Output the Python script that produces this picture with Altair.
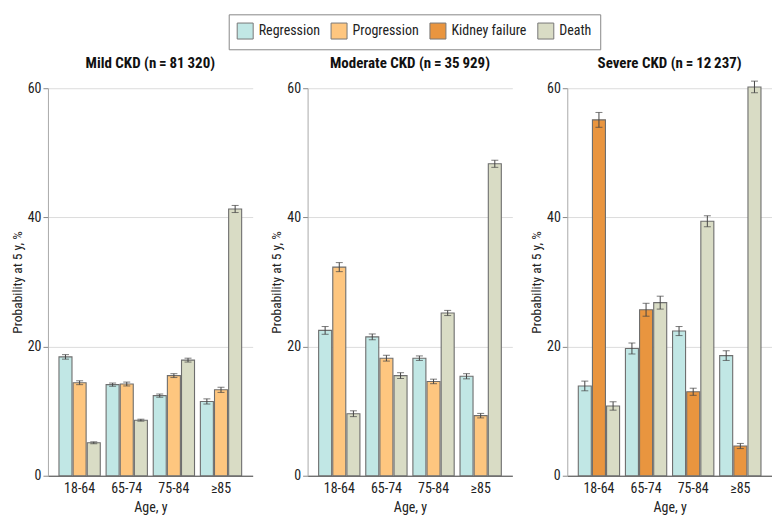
import altair as alt
import pandas as pd

ages = ["18-64", "65-74", "75-84", "≥85"]
outcomes = ["Regression", "Progression", "Kidney failure", "Death"]
colors = ["#c1e7e5", "#fec67f", "#e9953f", "#d9dcc5"]

panels = ["Mild", "Moderate", "Severe"]
panel_titles = ["Mild CKD (n\u2009=\u200981\u2009320)",
                "Moderate CKD (n\u2009=\u200935\u2009929)",
                "Severe CKD (n\u2009=\u200912\u2009237)"]
panel_outcomes = [["Regression", "Progression", "Death"],
                  ["Regression", "Progression", "Death"],
                  ["Regression", "Kidney failure", "Death"]]

# values (%) per age group
mild_regression = [18.4, 14.1, 12.4, 11.5]
mild_progression = [14.4, 14.2, 15.5, 13.3]
mild_death = [5.1, 8.6, 17.9, 41.3]
mild_regression_err = [0.35, 0.25, 0.25, 0.4]
mild_progression_err = [0.3, 0.3, 0.3, 0.4]
mild_death_err = [0.15, 0.15, 0.3, 0.55]

moderate_regression = [22.5, 21.5, 18.2, 15.4]
moderate_progression = [32.3, 18.2, 14.6, 9.3]
moderate_death = [9.6, 15.5, 25.2, 48.3]
moderate_regression_err = [0.6, 0.45, 0.35, 0.4]
moderate_progression_err = [0.7, 0.45, 0.35, 0.35]
moderate_death_err = [0.45, 0.45, 0.4, 0.55]

severe_regression = [13.9, 19.7, 22.4, 18.6]
severe_kidney_failure = [55.1, 25.7, 13.0, 4.6]
severe_death = [10.8, 26.8, 39.4, 60.2]
severe_regression_err = [0.75, 0.85, 0.7, 0.75]
severe_kidney_failure_err = [1.15, 1.0, 0.55, 0.4]
severe_death_err = [0.65, 1.0, 0.85, 0.9]

series = {
    "Mild": [(mild_regression, mild_regression_err),
             (mild_progression, mild_progression_err),
             (mild_death, mild_death_err)],
    "Moderate": [(moderate_regression, moderate_regression_err),
                 (moderate_progression, moderate_progression_err),
                 (moderate_death, moderate_death_err)],
    "Severe": [(severe_regression, severe_regression_err),
               (severe_kidney_failure, severe_kidney_failure_err),
               (severe_death, severe_death_err)],
}

rows = []
for p, outs in zip(panels, panel_outcomes):
    for slot, (oc, (vals, errs)) in enumerate(zip(outs, series[p])):
        for a, v, e in zip(ages, vals, errs):
            rows.append({"panel": p, "age": a, "outcome": oc, "slot": slot,
                         "value": v, "lo": v - e, "hi": v + e})
df = pd.DataFrame(rows)

FONT = "Liberation Sans Narrow, Roboto Condensed, DejaVu Sans Condensed, Roboto"

legend = alt.Legend(title=None, orient="none", direction="horizontal",
                    legendX=181, legendY=-74, symbolType="square", symbolSize=256,
                    symbolStrokeColor="#777", symbolStrokeWidth=1, symbolOpacity=1,
                    labelFontSize=14, labelFont=FONT, labelColor="#222",
                    labelOffset=5, strokeColor="#888", padding=8, columnPadding=8,
                    values=outcomes)


def make_panel(p, title):
    d = df[df.panel == p]
    base = alt.Chart(d).encode(
        x=alt.X("age:N", sort=ages,
                scale=alt.Scale(paddingInner=0.124, paddingOuter=0.234),
                axis=alt.Axis(title="Age, y", labelAngle=0, ticks=False,
                              domainColor="#444", labelPadding=6, titlePadding=5,
                              labelFontSize=14, titleFontSize=14)),
        xOffset=alt.XOffset("slot:O", scale=alt.Scale(paddingInner=0.08)),
    )
    yscale = alt.Scale(domain=[0, 60], nice=False)
    bars = base.mark_bar(stroke="#6e6e6e", strokeWidth=1.1).encode(
        y=alt.Y("value:Q", scale=yscale,
                axis=alt.Axis(values=[0, 20, 40, 60], title="Probability at 5 y, %",
                              domainColor="#aaa", tickColor="#888", tickSize=5,
                              gridColor="#dcdcdc", titlePadding=3, labelPadding=2,
                              labelFontSize=14, titleFontSize=13.5)),
        color=alt.Color("outcome:N", scale=alt.Scale(domain=outcomes, range=colors),
                        legend=legend),
    )
    rule = base.mark_rule(color="#444", strokeWidth=1).encode(
        y=alt.Y("lo:Q", scale=yscale), y2="hi:Q")
    cap_lo = base.mark_tick(color="#444", size=7, thickness=1).encode(
        y=alt.Y("lo:Q", scale=yscale))
    cap_hi = base.mark_tick(color="#444", size=7, thickness=1).encode(
        y=alt.Y("hi:Q", scale=yscale))
    return alt.layer(bars, rule, cap_lo, cap_hi).properties(
        width=205, height=388,
        title=alt.TitleParams(title, fontSize=15, fontWeight="bold", font=FONT,
                              color="#111", anchor="middle", offset=10))


chart = alt.hconcat(*[make_panel(p, t) for p, t in zip(panels, panel_titles)],
                    spacing=17).resolve_scale(color="shared").configure(
    padding={"left": 2, "top": 5, "right": 0, "bottom": 0},
    font=FONT,
).configure_view(stroke=None).configure_axis(
    labelFont=FONT, titleFont=FONT,
    labelColor="#222", titleColor="#222", titleFontWeight="normal",
)

chart.save("out.html", embed_options={"renderer": "svg", "actions": False})
